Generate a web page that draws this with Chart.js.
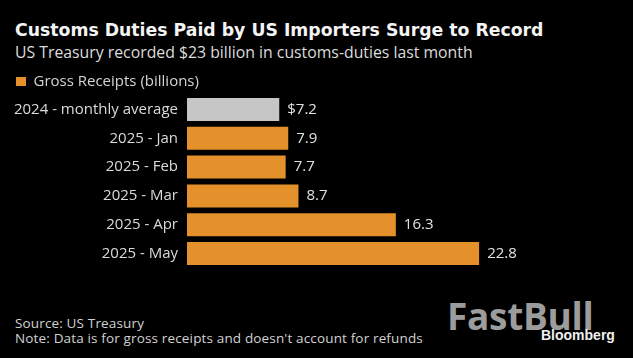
<!DOCTYPE html>
<html>
<head>
<meta charset="utf-8">
<script src="https://cdn.jsdelivr.net/npm/chart.js@4.4.1/dist/chart.umd.min.js"></script>
<style>
  html, body { margin: 0; padding: 0; background: #000; }
  body { width: 633px; height: 358px; position: relative; overflow: hidden; font-family: "Open Sans", sans-serif; }
  .title { position: absolute; left: 15px; top: 20px; font-family: "DejaVu Sans", sans-serif; font-size: 17.3px; font-weight: 700; color: #f4f4f4; white-space: nowrap; }
  .subtitle { position: absolute; left: 15px; top: 41px; font-size: 15.8px; color: #dcdcdc; white-space: nowrap; }
  .foot { position: absolute; left: 15px; font-size: 13.5px; letter-spacing: 0.15px; color: #d2d2d2; white-space: nowrap; }
  .wm { position: absolute; left: 447px; top: 290px; font-family: "Open Sans", sans-serif; font-weight: 700; font-size: 37px; color: #9c9c9c; letter-spacing: -0.3px; }
  .wm2 { position: absolute; left: 541px; top: 327px; font-family: "Liberation Sans", sans-serif; font-weight: 700; font-size: 14px; color: #f0f0f0; }
  #wrap { position: absolute; left: 0; top: 60px; width: 633px; height: 226px; }
</style>
</head>
<body>
<div class="title">Customs Duties Paid by US Importers Surge to Record</div>
<div class="subtitle">US Treasury recorded $23 billion in customs-duties last month</div>
<div id="wrap"><canvas id="chart"></canvas></div>
<div class="foot" style="top:314px">Source: US Treasury</div>
<div class="foot" style="top:329px">Note: Data is for gross receipts and doesn't account for refunds</div>
<div class="wm">FastBull</div>
<div class="wm2">Bloomberg</div>
<script>
var categories = ['2024 - monthly average', '2025 - Jan', '2025 - Feb', '2025 - Mar', '2025 - Apr', '2025 - May'];
var receipts = [7.2, 7.9, 7.7, 8.7, 16.3, 22.8];
var valueLabels = ['$7.2', '7.9', '7.7', '8.7', '16.3', '22.8'];
var seriesName = 'Gross Receipts (billions)';

var orange = '#e5912b';
var grey = '#c6c6c6';

// values drawn to the right of each bar
var valueLabelPlugin = {
  id: 'valueLabels',
  beforeUpdate: function(chart) {
    // shrink the legend box a little so the bars sit closer under it
    var lg = chart.legend;
    if (lg && !lg._shrunk) {
      var fit = lg.fit;
      lg.fit = function() { fit.call(this); this.height -= 4; };
      lg._shrunk = true;
    }
  },
  afterDatasetsDraw: function(chart) {
    var ctx = chart.ctx;
    var meta = chart.getDatasetMeta(0);
    ctx.save();
    ctx.fillStyle = '#e2e2e2';
    ctx.font = '15px "Open Sans", sans-serif';
    ctx.textBaseline = 'middle';
    ctx.textAlign = 'left';
    meta.data.forEach(function(bar, i) {
      ctx.fillText(valueLabels[i], bar.x + 8, bar.y);
    });
    ctx.restore();
  }
};

var ctx = document.getElementById('chart');
new Chart(ctx, {
  type: 'bar',
  data: {
    labels: categories,
    datasets: [{
      label: seriesName,
      data: receipts,
      backgroundColor: [grey, orange, orange, orange, orange, orange],
      borderWidth: 0,
      categoryPercentage: 1,
      barPercentage: 0.8
    }]
  },
  options: {
    indexAxis: 'y',
    responsive: true,
    maintainAspectRatio: false,
    animation: false,
    layout: { padding: { left: 0, right: 36, top: -2, bottom: 0 } },
    plugins: {
      legend: {
        position: 'top',
        align: 'start',
        labels: {
          boxWidth: 10,
          boxHeight: 9,
          padding: 16,
          color: '#d4d4d4',
          font: { size: 15, family: '"Open Sans", sans-serif' },
          generateLabels: function() {
            return [{ text: seriesName, fillStyle: orange, strokeStyle: orange, fontColor: '#d4d4d4', lineWidth: 0, hidden: false, datasetIndex: 0 }];
          }
        }
      },
      tooltip: { enabled: false }
    },
    scales: {
      x: { display: false, min: 0, max: 32 },
      y: {
        grid: { display: false, drawTicks: false },
        border: { display: false },
        ticks: { color: '#dadada', padding: 9, font: { size: 15, family: '"Open Sans", sans-serif' } },
        afterFit: function(scale) { scale.width = 187; }
      }
    }
  },
  plugins: [valueLabelPlugin]
});
</script>
</body>
</html>
